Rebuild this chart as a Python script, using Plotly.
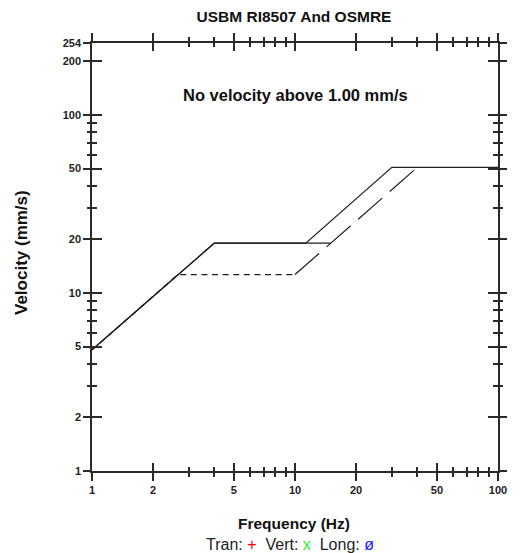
import plotly.graph_objects as go
import math

# ---- data ----
drywall_freq = [1, 4, 15]
drywall_vel = [4.79, 19.05, 19.05]
plaster_freq = [1, 2.65, 10]
plaster_vel = [4.79, 12.7, 12.7]
usbm_high_freq = [10, 40]
usbm_high_vel = [12.7, 50.8]
osmre_freq = [1, 4, 11.3, 30, 100]
osmre_vel = [4.79, 19.05, 19.05, 50.8, 50.8]

x_major = [1, 2, 5, 10, 20, 50, 100]
x_major_text = ["1", "2", "5", "10", "20", "50", "100"]
x_minor = [3, 4, 6, 7, 8, 9, 30, 40, 60, 70, 80, 90]
y_major = [1, 2, 5, 10, 20, 50, 100, 200, 254]
y_major_text = ["1", "2", "5", "10", "20", "50", "100", "200", "254"]
y_minor = [3, 4, 6, 7, 8, 9, 30, 40, 60, 70, 80, 90]
y_max = 254

LINE = "#1e1e1e"
AX = "#2a2a2a"
FONT = "Arial, Liberation Sans, sans-serif"

# the page body adds an 8px offset; plot area target (window px): x 92..498, y 43..471
OFF = 8
W, H = 522, 553
PX0, PX1, PY0, PY1 = 92, 498, 43, 471
PW, PH = PX1 - PX0, PY1 - PY0


def px(x):
    return (x - PX0) / PW


def py(y):
    return (PY1 - y) / PH


fig = go.Figure()
fig.add_trace(go.Scatter(x=plaster_freq, y=plaster_vel, mode="lines",
                         line=dict(color=LINE, width=1.2, dash="6px,4.6px"), showlegend=False))
fig.add_trace(go.Scatter(x=usbm_high_freq, y=usbm_high_vel, mode="lines",
                         line=dict(color=LINE, width=1.2, dash="32px,10px"), showlegend=False))
fig.add_trace(go.Scatter(x=osmre_freq, y=osmre_vel, mode="lines",
                         line=dict(color=LINE, width=1.2), showlegend=False))
fig.add_trace(go.Scatter(x=drywall_freq, y=drywall_vel, mode="lines",
                         line=dict(color=LINE, width=1.2), showlegend=False))
# invisible trace to activate the overlaid axes (used for the inward half of the ticks)
fig.add_trace(go.Scatter(x=[1], y=[1], xaxis="x2", yaxis="y2", mode="markers",
                         marker=dict(opacity=0), showlegend=False, hoverinfo="skip"))

xr = [0, 2]
yr = [0, math.log10(y_max)]
tickfont = dict(family=FONT, size=11, color="#222", weight="bold")

common_x = dict(type="log", range=xr, showgrid=False, zeroline=False,
                showline=True, linecolor=AX, linewidth=1.5,
                tickmode="array", tickvals=x_major, ticktext=x_major_text,
                tickcolor=AX, tickwidth=1.5, mirror="ticks")
common_y = dict(type="log", range=yr, showgrid=False, zeroline=False,
                showline=True, linecolor=AX, linewidth=1.5,
                tickmode="array", tickvals=y_major, ticktext=y_major_text,
                tickcolor=AX, tickwidth=1.5, mirror="ticks")

fig.update_layout(
    width=W, height=H,
    margin=dict(l=PX0 - OFF, r=W - (PX1 - OFF), t=PY0 - OFF, b=H - (PY1 - OFF)),
    paper_bgcolor="white", plot_bgcolor="white",
    xaxis=dict(**common_x, ticks="outside", ticklen=8, tickfont=tickfont,
               minor=dict(tickmode="array", tickvals=x_minor, ticks="outside",
                          ticklen=4, tickcolor=AX, tickwidth=1.5, showgrid=False)),
    xaxis2=dict(**common_x, ticks="inside", ticklen=8, showticklabels=False,
                overlaying="x", side="bottom",
                minor=dict(tickmode="array", tickvals=x_minor, ticks="inside",
                           ticklen=4, tickcolor=AX, tickwidth=1.5, showgrid=False)),
    yaxis=dict(**common_y, ticks="outside", ticklen=7, tickfont=tickfont,
               minor=dict(tickmode="array", tickvals=y_minor, ticks="outside",
                          ticklen=3, tickcolor=AX, tickwidth=1.5, showgrid=False)),
    yaxis2=dict(**common_y, ticks="inside", ticklen=10, showticklabels=False,
                overlaying="y", side="left",
                minor=dict(tickmode="array", tickvals=y_minor, ticks="inside",
                           ticklen=5, tickcolor=AX, tickwidth=1.5, showgrid=False)),
    title=dict(text="USBM RI8507 And OSMRE", x=(294 - OFF) / W, xanchor="center",
               y=1 - (16.5 - OFF) / H, yanchor="middle",
               font=dict(family=FONT, size=15.5, color="#111", weight="bold")),
    annotations=[
        dict(text="No velocity above 1.00 mm/s", xref="paper", yref="paper",
             x=px(295), y=py(95), xanchor="center", yanchor="middle",
             showarrow=False, font=dict(family=FONT, size=16.5, color="#111", weight="bold")),
        dict(text="Velocity (mm/s)", xref="paper", yref="paper", textangle=-90,
             x=px(21), y=py(253), xanchor="center", yanchor="middle",
             showarrow=False, font=dict(family=FONT, size=17, color="#111", weight="bold")),
        dict(text="Frequency (Hz)", xref="paper", yref="paper",
             x=px(294), y=py(523), xanchor="center", yanchor="middle",
             showarrow=False, font=dict(family=FONT, size=15.5, color="#111", weight="bold")),
        dict(text="Tran: <span style='color:#ff0000'>+</span>  Vert: "
                  "<span style='color:#33ee33'>x</span>  Long: "
                  "<span style='color:#1a1aff'>ø</span>",
             xref="paper", yref="paper",
             x=px(290), y=py(544), xanchor="center", yanchor="middle",
             showarrow=False, font=dict(family=FONT, size=16, color="#222")),
    ],
)

fig.write_html("out.html")
